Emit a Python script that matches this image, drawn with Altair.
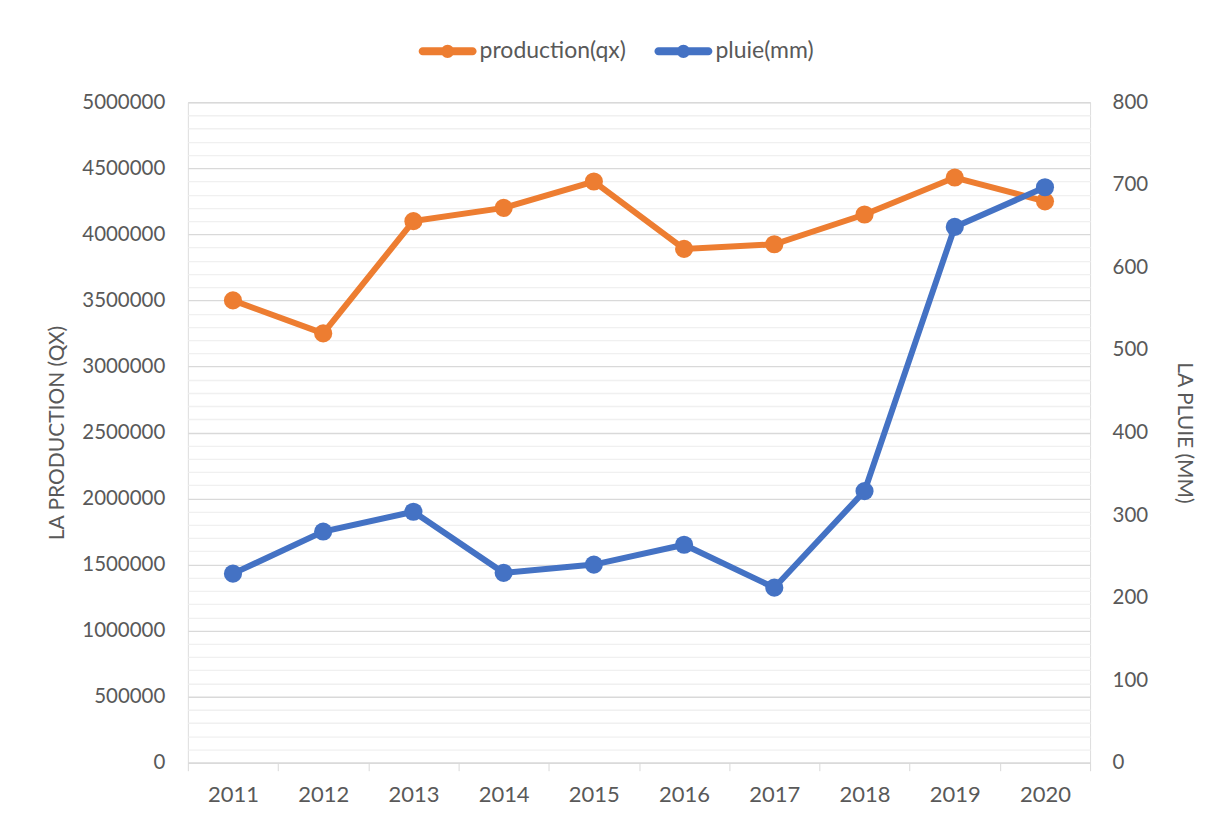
import altair as alt
import pandas as pd

years = ["2011", "2012", "2013", "2014", "2015", "2016", "2017", "2018", "2019", "2020"]
production = [3500000, 3250000, 4100000, 4200000, 4400000, 3890000, 3925000, 4150000, 4430000, 4250000]
pluie = [229, 280, 304, 230, 240, 264, 212, 329, 649, 697]
series_names = ["production(qx)", "pluie(mm)"]
series_colors = ["#ED7D31", "#4472C4"]

df = pd.DataFrame({"year": years, "production": production, "pluie": pluie})

FONT = "Lato"
TXT = "#595959"

color_scale = alt.Scale(domain=series_names, range=series_colors)
legend_path = ("M-0.86,-0.14L0.86,-0.14A0.14,0.14 0 0,1 0.86,0.14L-0.86,0.14"
               "A0.14,0.14 0 0,1 -0.86,-0.14Z "
               "M0.23,0A0.23,0.23 0 1,1 -0.23,0A0.23,0.23 0 1,1 0.23,0Z")
legend = alt.Legend(title=None, orient="none", legendX=231, legendY=-80,
                    direction="horizontal", symbolType=legend_path, symbolSize=3364,
                    symbolStrokeWidth=0, labelFont=FONT, labelFontSize=23,
                    labelColor=TXT, labelOffset=3, columnPadding=28)

x_enc = alt.X("year:O", title=None,
              scale=alt.Scale(type="band", paddingInner=0, paddingOuter=0),
              axis=alt.Axis(labelAngle=0, tickBand="extent", grid=False,
                            domainColor="#d9d9d9", tickColor="#d9d9d9", tickSize=8,
                            labelFont=FONT, labelFontSize=22, labelColor=TXT,
                            labelPadding=14))

left_vals = list(range(0, 5000001, 100000))
right_vals = list(range(0, 801, 20))

prod_y = alt.Y("production:Q", title="LA PRODUCTION (QX)",
               scale=alt.Scale(domain=[0, 5000000], nice=False),
               axis=alt.Axis(values=left_vals, tickCount=200, labelOverlap=False,
                             labelExpr="datum.value % 500000 === 0 ? datum.value : ''",
                             format="d", ticks=False, domain=False, grid=True,
                             gridColor=alt.condition("datum.value % 500000 === 0",
                                                     alt.value("#d9d9d9"), alt.value("#f0f0f0")),
                             gridWidth=1.3,
                             labelFont=FONT, labelFontSize=20.5, labelColor=TXT,
                             labelPadding=23, titleFont=FONT, titleFontSize=21,
                             titleFontWeight="normal", titleColor=TXT, titlePadding=14))
pluie_y = alt.Y("pluie:Q", title="LA PLUIE (MM)",
                scale=alt.Scale(domain=[0, 800], nice=False),
                axis=alt.Axis(orient="right", values=right_vals, tickCount=200,
                              labelOverlap=False,
                              labelExpr="datum.value % 100 === 0 ? datum.value : ''",
                              ticks=False, domain=False, grid=False,
                              labelFont=FONT, labelFontSize=20.5, labelColor=TXT,
                              labelPadding=22, titleFont=FONT, titleFontSize=21,
                              titleFontWeight="normal", titleColor=TXT, titlePadding=26))

base_p = alt.Chart(df).transform_calculate(series="'production(qx)'")
prod_line = base_p.mark_line(strokeWidth=6).encode(
    x=x_enc, y=prod_y, color=alt.Color("series:N", scale=color_scale, legend=legend))
prod_pts = base_p.mark_point(filled=True, size=330, opacity=1).encode(
    x=x_enc, y=alt.Y("production:Q"), color=alt.Color("series:N", scale=color_scale, legend=legend))

base_r = alt.Chart(df).transform_calculate(series="'pluie(mm)'")
pluie_line = base_r.mark_line(strokeWidth=6).encode(
    x=x_enc, y=pluie_y, color=alt.Color("series:N", scale=color_scale, legend=legend))
pluie_pts = base_r.mark_point(filled=True, size=330, opacity=1).encode(
    x=x_enc, y=alt.Y("pluie:Q"), color=alt.Color("series:N", scale=color_scale, legend=legend))

chart = alt.layer(
    alt.layer(prod_line, prod_pts),
    alt.layer(pluie_line, pluie_pts),
).resolve_scale(y="independent").properties(
    width=903, height=661,
    autosize=alt.AutoSizeParams(type="none"),
    padding={"left": 180, "top": 94, "right": 108, "bottom": 45},
).configure_view(stroke=None, strokeWidth=0).configure_axisX(
    grid=False
).configure_axisY(domain=False).configure(background="white")

chart.save("out.html", embed_options={"renderer": "svg", "actions": False})
